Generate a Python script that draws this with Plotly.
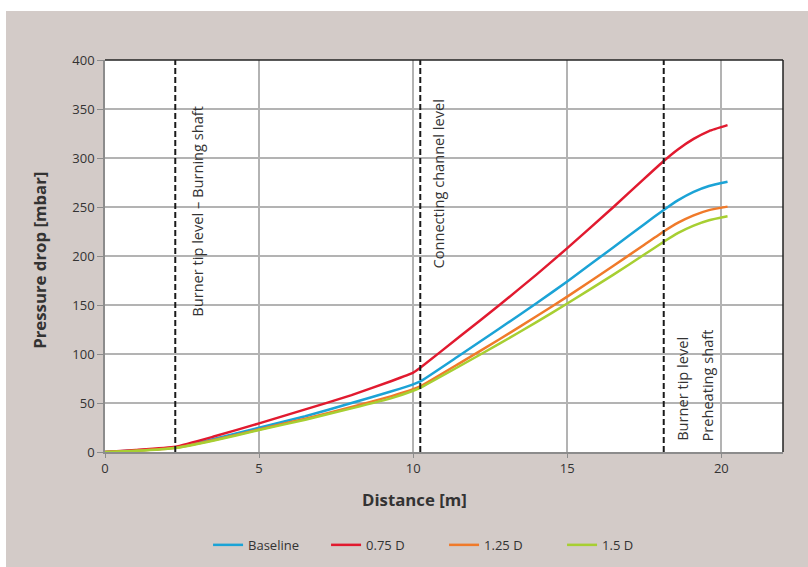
import plotly.graph_objects as go

# Distance along the kiln shaft [m]
distance = [0, 1.0, 2.28, 3.5, 5.0, 6.5, 8.0, 9.3, 10.0, 10.23, 11.5, 12.8,
            14.0, 15.0, 16.5, 17.5, 18.13, 18.6, 19.1, 19.6, 20.2]

# Pressure drop [mbar] for each shaft geometry
baseline = [0, 1.5, 4.6, 13, 24.8, 36.5, 50, 62, 69, 72, 98.5, 126,
            151.8, 174, 209, 232.5, 247, 257, 265.5, 271.5, 275.8]
d075 = [0, 2.0, 5.4, 15.5, 29.2, 43.5, 58, 72.5, 81, 86, 117.5, 150,
        181, 208, 250, 279, 297, 309, 319.5, 327.5, 333.5]
d125 = [0, 1.3, 4.3, 12, 23, 34, 46, 57, 64, 67, 90.5, 115,
        138.5, 158.5, 190, 211.5, 225, 234, 241.5, 246.8, 250.4]
d150 = [0, 1.2, 4.1, 11.5, 22.4, 33, 44.5, 55, 62.5, 65.5, 87.5, 110.5,
        132.5, 151.5, 181, 201.5, 214.5, 223.5, 231, 236.5, 240.5]

series_names = ["Baseline", "0.75 D", "1.25 D", "1.5 D"]
series_values = [baseline, d075, d125, d150]
series_colors = ["#1ba3d6", "#e11a2f", "#f07a2a", "#a7cf32"]

# Level markers along the shaft
level_positions = [2.28, 10.23, 18.13]

FONT = "Open Sans"
TXT = "#333333"
BG = "#d3cbc8"

fig = go.Figure()
for name, vals, col in zip(series_names, series_values, series_colors):
    fig.add_trace(go.Scatter(x=distance, y=vals, mode="lines", name=name,
                             line=dict(color=col, width=2.5, shape="spline", smoothing=0.4)))

for xv in level_positions:
    fig.add_shape(type="line", xref="x", yref="paper", x0=xv, x1=xv, y0=0, y1=1,
                  line=dict(color="#1a1a1a", width=2, dash="6px,3px"), layer="above")

# plot frame: top and right edges
fig.add_shape(type="line", xref="paper", yref="paper", x0=0, x1=1, y0=1, y1=1,
              line=dict(color="#222222", width=1.5), layer="above")
fig.add_shape(type="line", xref="paper", yref="paper", x0=1, x1=1, y0=0, y1=1,
              line=dict(color="#222222", width=1.5), layer="above")

# white page margins around the grey panel
fig.add_shape(type="rect", xref="paper", yref="paper", x0=-0.2, x1=1.1,
              y0=1.125, y1=1.2, fillcolor="white", line=dict(width=0))
fig.add_shape(type="rect", xref="paper", yref="paper", x0=-0.2, x1=-0.146,
              y0=-0.35, y1=1.2, fillcolor="white", line=dict(width=0))

ann_font = dict(family=FONT, size=14.6, color=TXT)
labels = [
    ("Burner tip level – Burning shaft", 2.98, 136.4),
    ("Connecting channel level", 10.82, 185.2),
    ("Burner tip level", 18.74, 8.9),
    ("Preheating shaft", 19.54, 8.9),
]
for text, xv, yv in labels:
    fig.add_annotation(x=xv, y=yv, xref="x", yref="y", text=text, textangle=-90,
                       showarrow=False, xanchor="center", yanchor="bottom",
                       font=ann_font)

# axis titles
title_font = dict(family=FONT, size=16.8, color=TXT)
fig.add_annotation(x=0.456, y=-0.122, xref="paper", yref="paper",
                   text="<b>Distance [m]</b>", showarrow=False,
                   xanchor="center", yanchor="middle", font=title_font)
fig.add_annotation(x=-0.096, y=0.49, xref="paper", yref="paper",
                   text="<b>Pressure drop [mbar]</b>", showarrow=False, textangle=-90,
                   xanchor="center", yanchor="middle", font=title_font)

fig.update_layout(
    width=808, height=567,
    margin=dict(l=105, r=25, t=60, b=115, autoexpand=False),
    paper_bgcolor=BG, plot_bgcolor="white",
    font=dict(family=FONT, size=13, color=TXT),
    showlegend=True,
    legend=dict(orientation="h", x=0.152, xanchor="left", y=-0.237, yanchor="middle",
                font=dict(family=FONT, size=13, color=TXT),
                entrywidth=73, entrywidthmode="pixels",
                itemwidth=30, bgcolor="rgba(0,0,0,0)"),
    xaxis=dict(range=[0, 22], tickvals=[0, 5, 10, 15, 20], showgrid=True,
               gridcolor="#b3b3b3", gridwidth=1.5, showline=True, linecolor="#8c8c8c",
               linewidth=1.5, ticks="outside", ticklen=4, tickcolor="#8c8c8c",
               zeroline=False, automargin=False),
    yaxis=dict(range=[0, 400], tickvals=list(range(0, 401, 50)), showgrid=True,
               gridcolor="#b3b3b3", gridwidth=1.5, showline=True, linecolor="#8c8c8c",
               linewidth=1.5, ticks="outside", ticklen=6, tickcolor="#8c8c8c",
               zeroline=False, automargin=False),
)

fig.write_html("out.html")
